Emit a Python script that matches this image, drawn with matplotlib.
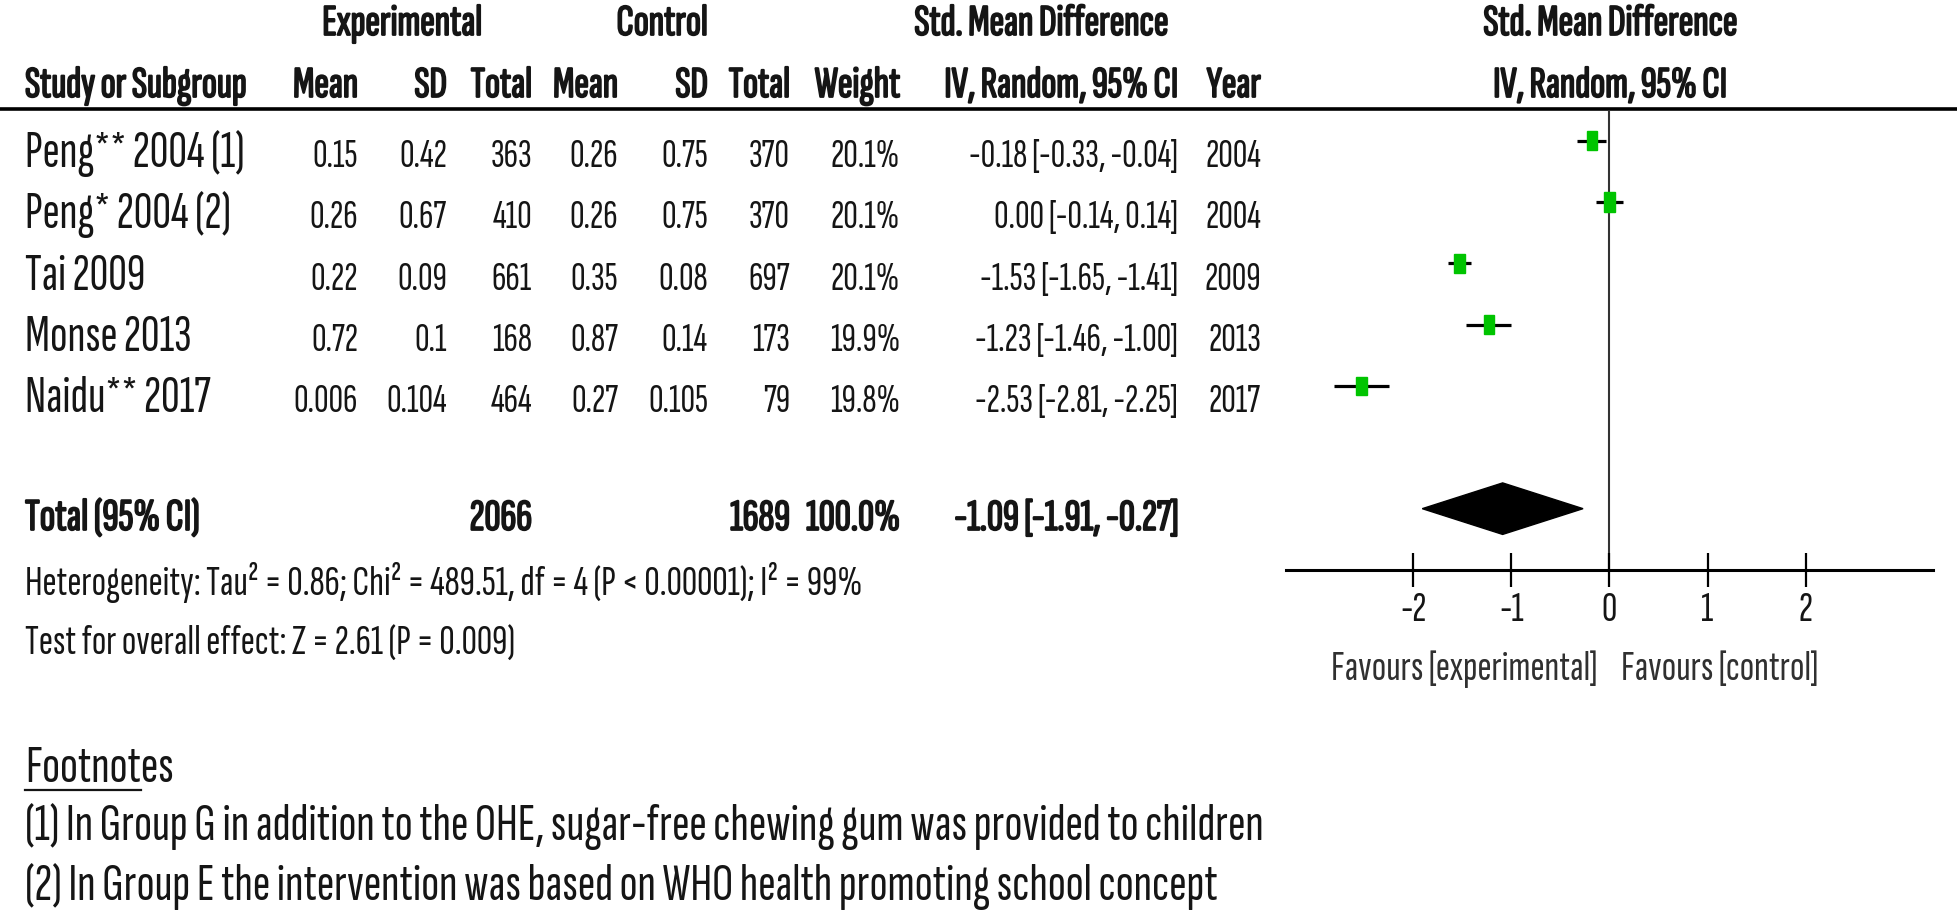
import numpy as np
import matplotlib
matplotlib.use("Agg")
import matplotlib.pyplot as plt
import matplotlib.patheffects as pe
from matplotlib import font_manager as fm
from matplotlib.patches import Rectangle, Polygon

# ---- data ----
studies = ["Peng** 2004 (1)", "Peng* 2004 (2)", "Tai 2009", "Monse 2013", "Naidu** 2017"]
exp_mean = [0.15, 0.26, 0.22, 0.72, 0.006]
exp_sd = [0.42, 0.67, 0.09, 0.1, 0.104]
exp_n = [363, 410, 661, 168, 464]
ctl_mean = [0.26, 0.26, 0.35, 0.87, 0.27]
ctl_sd = [0.75, 0.75, 0.08, 0.14, 0.105]
ctl_n = [370, 370, 697, 173, 79]
weight = [20.1, 20.1, 20.1, 19.9, 19.8]
smd = [-0.18, 0.00, -1.53, -1.23, -2.53]
ci_lo = [-0.33, -0.14, -1.65, -1.46, -2.81]
ci_hi = [-0.04, 0.14, -1.41, -1.00, -2.25]
years = [2004, 2004, 2009, 2013, 2017]

pooled = -1.09
pooled_lo = -1.91
pooled_hi = -0.27

xticks = [-2, -1, 0, 1, 2]
het_text = "Heterogeneity: Tau² = 0.86; Chi² = 489.51, df = 4 (P < 0.00001); I² = 99%"
overall_text = "Test for overall effect: Z = 2.61 (P = 0.009)"
footnotes = ["(1) In Group G in addition to the OHE, sugar-free chewing gum was provided to children",
             "(2) In Group E the intervention was based on WHO health promoting school concept"]

# ---- font: narrow grotesque ----
available = set(f.name for f in fm.fontManager.ttflist)
FONT = "DejaVu Sans"
for cand in ["Sofia Sans Extra Condensed", "Fira Sans Extra Condensed", "Liberation Sans"]:
    if cand in available:
        FONT = cand
        break
plt.rcParams["font.family"] = [FONT, "DejaVu Sans"]

W, H = 1958, 916
fig = plt.figure(figsize=(W / 100, H / 100), dpi=100)
tab = fig.add_axes([0, 0, 1, 1])
tab.set_xlim(0, W)
tab.set_ylim(H, 0)
tab.axis("off")

# size each group of text so its width matches the picture
renderer = fig.canvas.get_renderer()
def fit_size(s, target):
    t = tab.text(0, 0, s, fontsize=20)
    w = t.get_window_extent(renderer).width
    t.remove()
    return 20 * target / w

FS_NAME = fit_size(studies[0], 220)
FS_NUM = fit_size("-0.18 [-0.33, -0.04]", 209)
FS_HEAD = fit_size("Study or Subgroup", 221)
FS_TOT = fit_size("Total (95% CI)", 175)
FS_TOTN = fit_size("-1.09 [-1.91, -0.27]", 224)
FS_HET = fit_size(het_text, 838)
FS_FAV = fit_size("Favours [experimental]", 266)
FS_FOOT = fit_size(footnotes[0], 1240)
TXT = "#151515"
BOLD = [pe.withStroke(linewidth=1.3, foreground=TXT)]

def put(x, y, s, size, ha="left", bold=False, color=TXT):
    tab.text(x, y, s, ha=ha, va="baseline", color=color, fontsize=size,
             path_effects=BOLD if bold else None)

# header
for x, s in [(402, "Experimental"), (662, "Control"), (1041, "Std. Mean Difference"),
             (1610, "Std. Mean Difference")]:
    put(x, 35, s, FS_HEAD, ha="center", bold=True)
put(25, 97, "Study or Subgroup", FS_HEAD, bold=True)
col_r = [358, 447, 532, 618, 708, 790, 900, 1178]
for x, s in zip(col_r, ["Mean", "SD", "Total", "Mean", "SD", "Total", "Weight", "IV, Random, 95% CI"]):
    put(x, 97, s, FS_HEAD, ha="right", bold=True)
put(1261, 97, "Year", FS_HEAD, ha="right", bold=True)
put(1610, 97, "IV, Random, 95% CI", FS_HEAD, ha="center", bold=True)
tab.plot([0, W], [109, 109], color="black", lw=2.6, solid_capstyle="butt")

# study rows
row0, dy = 141, 61.33
for i in range(len(studies)):
    yb = row0 + i * dy + 26
    put(25, yb, studies[i], FS_NAME)
    vals = [f"{exp_mean[i]:g}", f"{exp_sd[i]:g}", f"{exp_n[i]}",
            f"{ctl_mean[i]:g}", f"{ctl_sd[i]:g}", f"{ctl_n[i]}",
            f"{weight[i]:.1f}%", f"{smd[i]:.2f} [{ci_lo[i]:.2f}, {ci_hi[i]:.2f}]"]
    for x, s in zip(col_r, vals):
        put(x, yb, s, FS_NUM, ha="right")
    put(1261, yb, str(years[i]), FS_NUM, ha="right")

# total row
yb = row0 + 6 * dy + 21
put(25, yb, "Total (95% CI)", FS_TOT, bold=True)
put(col_r[2], yb, str(sum(exp_n)), FS_TOTN, ha="right", bold=True)
put(col_r[5], yb, str(sum(ctl_n)), FS_TOTN, ha="right", bold=True)
put(col_r[6], yb, f"{sum(weight):.1f}%", FS_TOTN, ha="right", bold=True)
put(col_r[7], yb, f"{pooled:.2f} [{pooled_lo:.2f}, {pooled_hi:.2f}]", FS_TOTN, ha="right", bold=True)
put(25, 595, het_text, FS_HET)
put(25, 655, overall_text, FS_HET)

# footnotes
put(25, 782, "Footnotes", FS_FOOT)
tab.plot([25, 141], [790, 790], color=TXT, lw=1.6)
put(25, 840, footnotes[0], FS_FOOT)
put(25, 900, footnotes[1], FS_FOOT)

# ---- forest panel ----
x0, x1, ytop, ybot = 1286, 1933, 110, 570
fx = fig.add_axes([x0 / W, 1 - ybot / H, (x1 - x0) / W, (ybot - ytop) / H])
fx.set_xlim(-3.3, 3.3)
fx.set_ylim(7.0, -0.5)
fx.patch.set_alpha(0)
for sp in ["top", "left", "right"]:
    fx.spines[sp].set_visible(False)
fx.spines["bottom"].set_linewidth(2.2)
fx.set_yticks([])
fx.set_xticks(xticks)
fx.set_xticklabels([str(t) for t in xticks], fontsize=FS_FAV, color=TXT)
fx.tick_params(axis="x", direction="inout", length=24, width=1.6, pad=4)

fx.axvline(0, color="#333333", lw=1.5, zorder=1)
for i in range(len(studies)):
    fx.plot([ci_lo[i], ci_hi[i]], [i, i], color="black", lw=2.3, solid_capstyle="butt", zorder=2)
    w = 0.105 * np.sqrt(weight[i] / 20.0)
    h = 0.31 * np.sqrt(weight[i] / 20.0)
    fx.add_patch(Rectangle((smd[i] - w / 2, i - h / 2), w, h, color="#00c400", zorder=3))

fx.add_patch(Polygon([(pooled_lo, 6), (pooled, 6 - 0.42), (pooled_hi, 6), (pooled, 6 + 0.42)],
                     closed=True, color="black", zorder=3))

put(1597, 680, "Favours [experimental]", FS_FAV, ha="right", color="#303030")
put(1621, 680, "Favours [control]", FS_FAV, ha="left", color="#303030")

fig.savefig("out.png", dpi=100)
